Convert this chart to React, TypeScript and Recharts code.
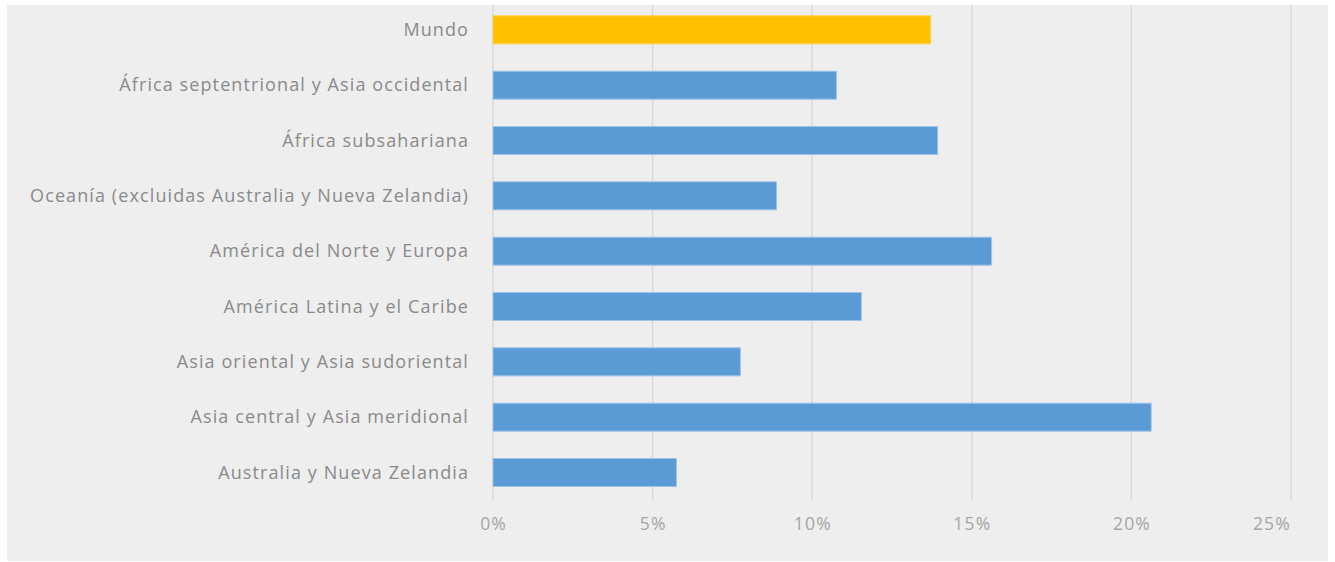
import React from "react";
import { BarChart, Bar, XAxis, YAxis, CartesianGrid, Cell } from "recharts";

const categories = [
  "Mundo",
  "África septentrional y Asia occidental",
  "África subsahariana",
  "Oceanía (excluidas Australia y Nueva Zelandia)",
  "América del Norte y Europa",
  "América Latina y el Caribe",
  "Asia oriental y Asia sudoriental",
  "Asia central y Asia meridional",
  "Australia y Nueva Zelandia",
];
const values = [13.71, 10.76, 13.93, 8.88, 15.62, 11.54, 7.75, 20.62, 5.75];
const xTicks = [0, 5, 10, 15, 20, 25];
const highlight = "Mundo";

const data = categories.map((name, i) => ({ name, value: values[i] }));

const FONT = "'Open Sans', sans-serif";
const LAST_TICK = xTicks[xTicks.length - 1];

function XTick(props: any) {
  const { x, y, payload } = props;
  const isLast = payload.value === LAST_TICK;
  return (
    <text
      x={isLast ? x : x + 0.6}
      y={y}
      dy="0.71em"
      textAnchor={isLast ? "end" : "middle"}
      fill="#a5a5a5"
      fontSize={17.5}
      fontFamily={FONT}
      letterSpacing={1.2}
    >
      {`${payload.value}%`}
    </text>
  );
}

export default function App() {
  return (
    <div style={{ position: "absolute", left: 0, top: 0, width: 1335, height: 562, background: "#ffffff" }}>
      <div
        style={{
          position: "absolute",
          left: 7,
          top: 5,
          width: 1321,
          height: 556,
          background: "#eeeeee",
          overflow: "hidden",
        }}
      >
        <div style={{ position: "absolute", left: -7, top: -5 }}>
          <BarChart
            width={1335}
            height={562}
            data={data}
            layout="vertical"
            margin={{ top: 2, right: 44, bottom: 32, left: 0 }}
            barCategoryGap="25%"
          >
            <CartesianGrid horizontal={false} vertical={true} stroke="#d9d9d9" strokeWidth={1.5} />
            <XAxis
              type="number"
              domain={[0, 25]}
              ticks={xTicks}
              axisLine={false}
              tickLine={false}
              height={30}
              tickSize={0}
              tickMargin={18}
              tick={<XTick />}
              interval={0}
            />
            <YAxis
              type="category"
              dataKey="name"
              width={493}
              axisLine={false}
              tickLine={false}
              tickSize={0}
              tickMargin={24}
              interval={0}
              tick={{ fill: "#8a8a8a", fontSize: 18, fontFamily: FONT, letterSpacing: 1.1 }}
            />
            <Bar dataKey="value" isAnimationActive={false} stroke="#9fc3e8" strokeWidth={1}>
              {data.map((d) => (
                <Cell
                  key={d.name}
                  fill={d.name === highlight ? "#ffc000" : "#5b9bd5"}
                  stroke={d.name === highlight ? "#ffd24d" : "#9fc3e8"}
                />
              ))}
            </Bar>
          </BarChart>
        </div>
      </div>
    </div>
  );
}
